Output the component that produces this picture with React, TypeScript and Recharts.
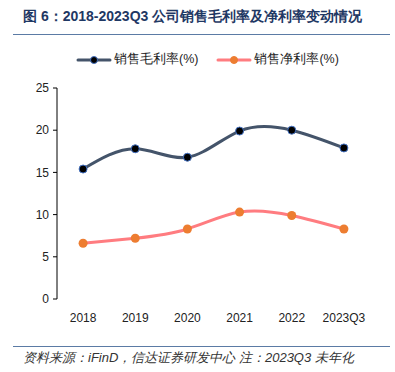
import { Line, LineChart, XAxis, YAxis } from "recharts";

const years = ["2018", "2019", "2020", "2021", "2022", "2023Q3"];
const grossMargin = [15.4, 17.8, 16.8, 19.9, 20.0, 17.9];
const netMargin = [6.6, 7.2, 8.3, 10.3, 9.9, 8.3];
const yTicks = [0, 5, 10, 15, 20, 25];
const boundaryTicks = [0, 1, 2, 3, 4, 5, 6];

const data = years.map((year, i) => ({
  year,
  pos: i + 0.5,
  gross: grossMargin[i],
  net: netMargin[i],
}));

const FONT = '"Liberation Sans", Arial, sans-serif';
const GROSS = "#44546A";
const NET = "#FF7C80";

function LegendItem({ color, dot, stroke, label }: { color: string; dot: string; stroke: string; label: string }) {
  return (
    <div style={{ display: "flex", alignItems: "center" }}>
      <svg width={36} height={12}>
        <line x1={2} y1={6} x2={34} y2={6} stroke={color} strokeWidth={3} strokeLinecap="round" />
        <circle cx={18} cy={6} r={3.5} fill={dot} stroke={stroke} strokeWidth={1} />
      </svg>
      <span style={{ fontSize: 12.5, color: "#222", marginLeft: 2 }}>{label}</span>
    </div>
  );
}

export default function App() {
  return (
    <div
      style={{
        position: "absolute",
        left: 0,
        top: 0,
        width: 395,
        height: 372,
        background: "#fff",
        fontFamily: FONT,
      }}
    >
      <div
        style={{
          position: "absolute",
          left: 23,
          top: 8,
          fontSize: 14,
          fontWeight: "bold",
          color: "#1F3864",
          whiteSpace: "nowrap",
        }}
      >
        图 6：2018-2023Q3 公司销售毛利率及净利率变动情况
      </div>
      <div
        style={{
          position: "absolute",
          left: 13,
          top: 34,
          width: 377,
          height: 1,
          background: "#5B7BA5",
        }}
      />
      <div style={{ position: "absolute", left: 0, top: 0 }}>
        <LineChart
          width={395}
          height={372}
          data={data}
          margin={{ top: 88, right: 25, bottom: 43, left: 27 }}
        >
          <XAxis
            dataKey="pos"
            type="number"
            domain={[0, 6]}
            ticks={data.map((d) => d.pos)}
            tickFormatter={(v: number) => years[Math.round(v - 0.5)]}
            axisLine={false}
            tickLine={false}
            height={30}
            tick={{ fontSize: 12, fill: "#222", fontFamily: FONT }}
            tickMargin={8}
          />
          <XAxis
            xAxisId="frame"
            dataKey="pos"
            type="number"
            domain={[0, 6]}
            ticks={boundaryTicks}
            tick={false}
            tickSize={4}
            axisLine={{ stroke: "#000" }}
            tickLine={{ stroke: "#000" }}
            height={0}
          />
          <YAxis
            domain={[0, 25]}
            ticks={yTicks}
            width={30}
            tickSize={4}
            axisLine={{ stroke: "#000" }}
            tickLine={{ stroke: "#000" }}
            tick={{ fontSize: 12, fill: "#222", fontFamily: FONT }}
            tickMargin={4}
          />
          <Line
            type="natural"
            dataKey="gross"
            stroke={GROSS}
            strokeWidth={3}
            dot={{ r: 4, fill: "#000", stroke: "#4472C4", strokeWidth: 1 }}
            isAnimationActive={false}
          />
          <Line
            type="natural"
            dataKey="net"
            stroke={NET}
            strokeWidth={3}
            dot={{ r: 4.5, fill: "#ED7D31", stroke: "#ED7D31", strokeWidth: 0 }}
            isAnimationActive={false}
          />
        </LineChart>
      </div>
      <div
        style={{
          position: "absolute",
          left: 76,
          top: 51,
          display: "flex",
          fontFamily: FONT,
        }}
      >
        <LegendItem color={GROSS} dot="#000" stroke="#4472C4" label="销售毛利率(%)" />
        <div style={{ width: 18 }} />
        <LegendItem color={NET} dot="#ED7D31" stroke="#ED7D31" label="销售净利率(%)" />
      </div>
      <div
        style={{
          position: "absolute",
          left: 13,
          top: 346,
          width: 377,
          height: 1,
          background: "#5B7BA5",
        }}
      />
      <div
        style={{
          position: "absolute",
          left: 23,
          top: 349,
          fontSize: 13,
          fontStyle: "italic",
          color: "#333",
          whiteSpace: "nowrap",
        }}
      >
        资料来源：iFinD，信达证券研发中心 注：2023Q3 未年化
      </div>
    </div>
  );
}
